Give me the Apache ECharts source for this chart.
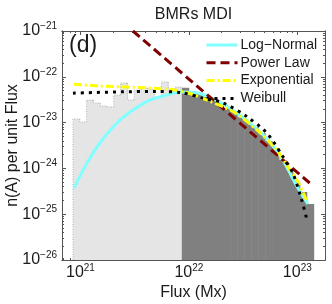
<!DOCTYPE html>
<html><head><meta charset="utf-8">
<script src="https://cdn.jsdelivr.net/npm/echarts@6/dist/echarts.min.js"></script>
<style>html,body{margin:0;padding:0;background:#fff}#c{width:332px;height:304px}</style>
</head><body><div id="c"></div>
<script>
const FONT = '"Liberation Sans", Arial, Helvetica, sans-serif';
// ---- data (flux in Mx, n(A) per unit flux) ----
const xTickValues = [1e21, 1e22, 1e23];
const yTickValues = [1e-26, 1e-25, 1e-24, 1e-23, 1e-22, 1e-21];
const xRange = [6.76e20, 1.80e23];
const yRange = [1e-26, 1e-21];
const lightRange = [8.53e20, 8.61e21];
const lightHist = [1.20e-23, 1.03e-23, 3.11e-23, 2.68e-23, 2.30e-23, 2.19e-23, 4.0e-23, 7.3e-23,
                   3.11e-23, 5.15e-23, 5.7e-23, 5.4e-23, 3.62e-23, 7.7e-23, 5.4e-23, 6.0e-23];
const darkRange = [8.61e21, 1.416e23];
const darkHist = [5.8e-23, 4.9e-23, 4.2e-23, 3.62e-23, 3.11e-23, 2.55e-23, 2.08e-23, 1.70e-23,
                  1.33e-23, 1.08e-23, 8.0e-24, 5.9e-24, 3.96e-24, 2.79e-24, 1.52e-24, 9.2e-25,
                  5.0e-25, 3.06e-25, 1.67e-25];
const logNormalFlux = [8.7e20, 1.15e21, 1.51e21, 2.17e21, 3.05e21, 4.37e21, 6.27e21, 8.26e21, 1.14e22,
                       1.56e22, 2.15e22, 2.95e22, 4.06e22, 5.58e22, 7.35e22, 9.89e22, 1.25e23];
const logNormalN = [3.7e-25, 1.32e-24, 3.59e-24, 9.8e-24, 1.88e-23, 3.11e-23, 4.0e-23, 4.66e-23, 4.54e-23,
                    3.62e-23, 2.42e-23, 1.47e-23, 8.0e-24, 3.77e-24, 1.52e-24, 4.13e-25, 1.67e-25];
const powerLawFlux = [3.05e21, 1.30e23];
const powerLawN = [1.0e-21, 4.8e-25];
const expFlux = [8.71e20, 1.51e21, 3.05e21, 6.27e21, 9.59e21, 1.47e22, 2.55e22, 4.24e22, 6.47e22,
                 8.53e22, 1.01e23, 1.25e23];
const expN = [6.9e-23, 6.3e-23, 5.9e-23, 5.4e-23, 4.5e-23, 3.1e-23, 1.74e-23, 6.9e-24, 2.5e-24,
              9.3e-25, 5.2e-25, 1.74e-25];
const weibullFlux = [8.53e20, 2.41e21, 4.86e21, 8.61e21, 1.35e22, 2.06e22, 3.43e22, 5.24e22, 7.35e22,
                     9.10e22, 1.10e23, 1.22e23];
const weibullN = [4.4e-23, 4.7e-23, 4.8e-23, 4.5e-23, 3.4e-23, 2.7e-23, 1.35e-23, 5.9e-24, 1.82e-24,
                  7.8e-25, 2.0e-25, 7.9e-26];
const seriesNames = ['Log\u2212Normal', 'Power Law', 'Exponential', 'Weibull'];

// ---- build ----
const L = Math.log10;
const XMIN = L(xRange[0]), XMAX = L(xRange[1]);
const YMIN = L(yRange[0]), YMAX = L(yRange[1]);
function bins(range, vals) {
  const a = L(range[0]), b = L(range[1]), w = (b - a) / vals.length;
  return vals.map((v, i) => [a + i * w, a + (i + 1) * w, L(v), i === 0 ? YMIN : L(vals[i - 1])]);
}
function pts(xs, ys) { return xs.map((x, i) => [L(x), L(ys[i])]); }
function minorTicks(lo, hi) {
  const out = [];
  for (let e = Math.floor(lo) - 1; e <= Math.ceil(hi); e++)
    for (let k = 2; k <= 9; k++) { const v = e + L(k); if (v > lo && v < hi) out.push(v); }
  return out;
}
const majX = xTickValues.map(L), majY = yTickValues.map(L);
const minX = minorTicks(XMIN, XMAX), minY = minorTicks(YMIN, YMAX);
const AX = '#555';
const rich = {
  b: {fontSize: 16, fontFamily: FONT, color: '#1a1a1a'},
  s: {fontSize: 10, fontFamily: FONT, color: '#1a1a1a', padding: [0, 0, 10, 0]}
};
function xAx(pos, vals, len, labels) {
  return {
    type: 'value', min: XMIN, max: XMAX, position: pos,
    axisLine: {show: true, onZero: false, lineStyle: {color: AX, width: 1}},
    splitLine: {show: false},
    axisTick: {show: true, inside: true, length: len, customValues: vals, lineStyle: {color: AX}},
    axisLabel: labels ? {show: true, customValues: vals, margin: 3, rich: rich,
      formatter: v => '{b|10}{s|' + Math.round(v) + '}'} : {show: false}
  };
}
function yAx(pos, vals, len, labels) {
  return {
    type: 'value', min: YMIN, max: YMAX, position: pos,
    axisLine: {show: true, onZero: false, lineStyle: {color: AX, width: 1}},
    splitLine: {show: false},
    axisTick: {show: true, inside: true, length: len, customValues: vals, lineStyle: {color: AX}},
    axisLabel: labels ? {show: true, customValues: vals, margin: 5, rich: rich,
      formatter: v => '{b|10}{s|\u2212' + Math.abs(Math.round(v)) + '}'} : {show: false}
  };
}
function histSeries(name, data, color, outline) {
  return {
    type: 'custom', name: name, data: data, encode: {x: [0, 1], y: [2]}, silent: true, z: 1,
    renderItem: (params, api) => {
      const tl = api.coord([api.value(0), api.value(2)]);
      const br = api.coord([api.value(1), YMIN]);
      const prev = api.coord([api.value(0), api.value(3)]);
      const children = [{type: 'rect', shape: {x: tl[0], y: tl[1], width: br[0] - tl[0] + 0.5, height: br[1] - tl[1]},
        style: {fill: color}}];
      if (outline) {
        children.push({type: 'polyline', shape: {points: [[tl[0], prev[1]], [tl[0], tl[1]], [br[0], tl[1]]]},
          style: {stroke: '#9a9a9a', lineWidth: 0.7, lineDash: [1, 1.5], fill: null}});
      }
      return {type: 'group', children: children};
    }
  };
}
function lineSeries(name, data, color, width, dash, z) {
  return {
    type: 'line', name: name, data: data, showSymbol: false, symbol: 'none', smooth: 0.3, z: z,
    lineStyle: {color: color, width: width, type: dash, cap: 'butt', join: 'round'}, itemStyle: {color: color},
    emphasis: {disabled: true}
  };
}
const chart = echarts.init(document.getElementById('c'), null, {renderer: 'canvas'});
chart.setOption({
  animation: false,
  backgroundColor: '#fff',
  grid: {left: 62, right: 7, top: 31, bottom: 44, containLabel: false},
  xAxis: [xAx('bottom', majX, 4, true), xAx('bottom', minX, 2, false), xAx('top', majX, 4, false), xAx('top', minX, 2, false)],
  yAxis: [yAx('left', majY, 4, true), yAx('left', minY, 2, false), yAx('right', majY, 4, false), yAx('right', minY, 2, false)],
  legend: {
    orient: 'vertical', left: 205, top: 38, padding: 0, itemGap: 3.8, itemWidth: 31, itemHeight: 14,
    data: seriesNames, textStyle: {fontFamily: FONT, fontSize: 14, color: '#1a1a1a', padding: [0, 0, 0, -2]},
    itemStyle: {opacity: 0}, lineStyle: {width: 3},
    selectedMode: false
  },
  graphic: [
    {type: 'text', x: 193.5, y: 15, z: 10, style: {text: 'BMRs MDI', font: '16px ' + FONT, fill: '#1a1a1a', textAlign: 'center', textVerticalAlign: 'middle'}},
    {type: 'text', x: 69, y: 46, z: 10, style: {text: '(d)', font: '23px ' + FONT, fill: '#1a1a1a', textAlign: 'left', textVerticalAlign: 'middle'}},
    {type: 'text', x: 193.5, y: 293, z: 10, style: {text: 'Flux (Mx)', font: '16px ' + FONT, fill: '#1a1a1a', textAlign: 'center', textVerticalAlign: 'middle'}},
    {type: 'text', x: 13, y: 145.5, rotation: Math.PI / 2, z: 10, style: {text: 'n(A) per unit Flux', font: '16px ' + FONT, fill: '#1a1a1a', textAlign: 'center', textVerticalAlign: 'middle'}}
  ],
  series: [
    histSeries('light', bins(lightRange, lightHist), '#e5e5e5', true),
    histSeries('dark', bins(darkRange, darkHist), '#808080', false),
    lineSeries(seriesNames[0], pts(logNormalFlux, logNormalN), '#80ffff', 3, 'solid', 3),
    lineSeries(seriesNames[1], pts(powerLawFlux, powerLawN), '#800000', 3, [9, 5], 4),
    lineSeries(seriesNames[2], pts(expFlux, expN), '#ffff00', 3, [8, 3, 2, 3], 5),
    lineSeries(seriesNames[3], pts(weibullFlux, weibullN), '#000000', 3, [3, 5], 6)
  ]
});
</script></body></html>
